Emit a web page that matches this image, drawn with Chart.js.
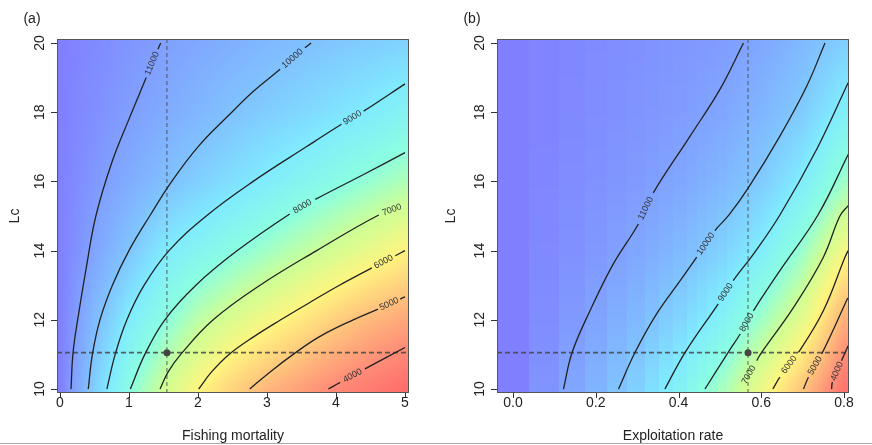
<!DOCTYPE html>
<html>
<head>
<meta charset="utf-8">
<script src="https://cdn.jsdelivr.net/npm/chart.js@4.4.1/dist/chart.umd.min.js"></script>
<style>
  body { margin: 0; background: #fff; }
  #wrap { position: relative; width: 872px; height: 445px; }
  canvas { position: absolute; top: 0; }
  #chartA { left: 0; }
  #chartB { left: 436px; }
</style>
</head>
<body>
<div id="wrap">
  <canvas id="chartA" width="436" height="445"></canvas>
  <canvas id="chartB" width="436" height="445"></canvas>
</div>
<script>
// tick labels
const lcTicks = [10, 12, 14, 16, 18, 20];
const fishingTicks = [0, 1, 2, 3, 4, 5];
const exploitTicks = [0, 0.2, 0.4, 0.6, 0.8];
const exploitTickLabels = ['0.0', '0.2', '0.4', '0.6', '0.8'];

// yield surface: rows = Lc, columns = fishing mortality
const gridLc = [10, 12, 14, 16, 18, 20];
const gridF = [0, 0.5, 1, 1.5, 2, 2.5, 3, 3.5, 4, 4.5, 5];
const yieldByF = [
  [11800, 9670, 8060, 6910, 6020, 5340, 4780, 4340, 3930, 3620, 3310],
  [11800, 10230, 8910, 8050, 7240, 6680, 6210, 5740, 5250, 4800, 4500],
  [11800, 10860, 9940, 9000, 8530, 8070, 7650, 7230, 6820, 6410, 6000],
  [11800, 11190, 10640, 10110, 9680, 9270, 8880, 8510, 8150, 7800, 7460],
  [11800, 11420, 11030, 10690, 10340, 10000, 9730, 9470, 9200, 8920, 8590],
  [11800, 11530, 11260, 11000, 10760, 10530, 10300, 10070, 9890, 9740, 9590]
];

// same surface: columns = exploitation rate
const gridE = [0, 0.1, 0.2, 0.3, 0.4, 0.5, 0.6, 0.7, 0.8];
const yieldByE = [
  [11800, 11140, 10410, 9600, 8660, 7600, 6370, 5030, 3450],
  [11800, 11360, 10880, 10260, 9550, 8700, 7650, 6520, 4650],
  [11800, 11500, 11190, 10800, 10290, 9660, 8860, 7720, 6200],
  [11800, 11580, 11350, 11130, 10810, 10350, 9800, 8890, 7680],
  [11800, 11630, 11460, 11280, 11110, 10840, 10370, 9760, 8770],
  [11800, 11660, 11510, 11370, 11230, 11080, 10780, 10270, 9680]
];
// visible column edges of the image cells in panel (b)
const exploitStripeEdges = [0.041, 0.113, 0.175, 0.229, 0.276, 0.318, 0.355, 0.389, 0.419, 0.446, 0.471, 0.494, 0.515, 0.534];

// contour lines, panel (a): [F, Lc]
const contA11000 = [[0.16,10],[0.19,11.06],[0.27,12.17],[0.39,13.61],[0.52,15.0],[0.75,16.54],[1.0,17.8],[1.25,19.0],[1.42,19.82],[1.46,20.0]];
const contA10000 = [[0.41,10],[0.47,11],[0.58,12],[0.76,13],[1.0,14],[1.3,15],[1.62,16],[2.0,17],[2.46,17.94],[2.8,18.6],[3.19,19.24],[3.55,19.86],[3.64,20.0]];
const contA9000 = [[0.68,10],[0.80,11],[0.97,12],[1.22,13],[1.58,14],[2.12,15],[2.80,16],[3.57,17],[4.08,17.65],[4.40,18.03],[5.0,18.82]];
const contA8000 = [[1.02,10],[1.23,11],[1.52,12],[1.97,13],[2.57,14],[3.33,15.06],[3.70,15.48],[4.40,16.2],[5.0,16.83]];
const contA7000 = [[1.45,10],[1.57,10.5],[1.75,11],[2.22,12],[2.9,13],[3.72,14],[4.62,15.03],[5.0,15.32]];
const contA6000 = [[2.01,10],[2.2,10.5],[2.45,11],[2.8,11.5],[3.2,12],[3.62,12.5],[4.05,13],[4.52,13.5],[4.86,13.85],[5.0,14.0]];
const contA5000 = [[2.75,10],[3.05,10.5],[3.38,11],[3.75,11.5],[4.25,12],[4.61,12.31],[4.93,12.6],[5.0,12.66]];
const contA4000 = [[3.89,10],[4.06,10.19],[4.42,10.58],[5.0,11.2]];

// contour lines, panel (b): [E, Lc]
const contB11000 = [[0.122,10],[0.143,11.06],[0.186,12.26],[0.242,13.61],[0.303,14.77],[0.339,15.67],[0.428,17.31],[0.500,18.66],[0.557,20.0]];
const contB10000 = [[0.255,10],[0.295,11.06],[0.347,12.17],[0.404,13.13],[0.444,13.81],[0.488,14.58],[0.522,15.03],[0.569,15.82],[0.645,17.31],[0.71,18.76],[0.754,20.0]];
const contB9000 = [[0.367,10],[0.416,11.06],[0.496,12.46],[0.532,13.13],[0.581,13.9],[0.645,15.03],[0.734,16.93],[0.81,18.85]];
const contB8000 = [[0.464,10],[0.520,11.06],[0.549,11.59],[0.581,12.26],[0.645,13.42],[0.738,15.05],[0.81,16.78]];
const contB7000 = [[0.551,10],[0.589,10.82],[0.601,11.06],[0.678,12.36],[0.750,13.81],[0.79,15.0],[0.81,15.3]];
const contB6000 = [[0.628,10],[0.645,10.34],[0.69,11.06],[0.75,12.26],[0.802,13.8],[0.81,14.0]];
const contB5000 = [[0.702,10],[0.714,10.34],[0.746,11.01],[0.809,12.63]];
const contB4000 = [[0.77,10],[0.772,10.2],[0.794,10.82],[0.81,11.25]];

// reference point (current fishery)
const refLc = 11.05;
const refF = 1.55;
const refE = 0.568;

// colour ramp (value -> rgb)
const colorLevels = [3200, 4000, 5000, 6000, 7000, 8000, 9000, 10000, 11000, 11800];
const colorRamp = [[255,106,106],[255,140,120],[255,195,125],[255,245,128],[205,255,150],[140,255,225],[128,235,255],[128,195,255],[128,160,255],[128,128,255]];

const FONT = "'Liberation Sans', Arial, Helvetica, sans-serif";
const lineColor = '#222';

function rampColor(v) {
    if (v <= colorLevels[0]) return colorRamp[0];
    for (let i = 1; i < colorLevels.length; i++) {
        if (v <= colorLevels[i]) {
            const t = (v - colorLevels[i - 1]) / (colorLevels[i] - colorLevels[i - 1]);
            const a = colorRamp[i - 1], b = colorRamp[i];
            return [a[0] + (b[0] - a[0]) * t, a[1] + (b[1] - a[1]) * t, a[2] + (b[2] - a[2]) * t];
        }
    }
    return colorRamp[colorRamp.length - 1];
}

function locate(arr, v) {
    v = Math.max(arr[0], Math.min(arr[arr.length - 1], v));
    let i = 0;
    while (i < arr.length - 2 && v > arr[i + 1]) i++;
    return [i, (v - arr[i]) / (arr[i + 1] - arr[i])];
}

function sampleGrid(xs, ys, grid, x, y) {
    const [i, tx] = locate(xs, x);
    const [j, ty] = locate(ys, y);
    const lo = grid[j][i] + (grid[j][i + 1] - grid[j][i]) * tx;
    const hi = grid[j + 1][i] + (grid[j + 1][i + 1] - grid[j + 1][i]) * tx;
    return lo + (hi - lo) * ty;
}

// snap an x value to the centre of its image column (panel b)
function snapToStripe(edges, xv) {
    if (!edges) return xv;
    if (xv < edges[0]) return 0;
    for (let k = 0; k < edges.length - 1; k++) {
        if (xv < edges[k + 1]) return (edges[k] + edges[k + 1]) / 2;
    }
    return xv;
}

// heat map painted cell by cell through the chart scales
const heatPlugin = {
    id: 'heat',
    beforeDatasetsDraw(chart, args, opts) {
        const { ctx, chartArea: a, scales: { x, y } } = chart;
        const step = 2;
        ctx.save();
        for (let px = a.left; px < a.right; px += step) {
            const xv = snapToStripe(opts.stripes, x.getValueForPixel(px + step / 2));
            for (let py = a.top; py < a.bottom; py += step) {
                const yv = y.getValueForPixel(py + step / 2);
                const c = rampColor(sampleGrid(opts.xs, gridLc, opts.grid, xv, yv));
                ctx.fillStyle = `rgb(${c[0] | 0},${c[1] | 0},${c[2] | 0})`;
                ctx.fillRect(px, py, step, step);
            }
        }
        ctx.restore();
    }
};

// contour labels sit in the gap left in each line
const labelPlugin = {
    id: 'contourLabels',
    afterDatasetsDraw(chart) {
        const ctx = chart.ctx;
        ctx.save();
        ctx.font = '9px ' + FONT;
        ctx.fillStyle = '#333';
        ctx.textAlign = 'center';
        ctx.textBaseline = 'middle';
        chart.data.datasets.forEach((ds, i) => {
            if (ds.contourLabel === undefined) return;
            const pts = chart.getDatasetMeta(i).data;
            const p0 = pts[ds.gapIndex], p1 = pts[ds.gapIndex + 1];
            let ang = Math.atan2(p1.y - p0.y, p1.x - p0.x);
            if (ang > Math.PI / 2) ang -= Math.PI;
            if (ang < -Math.PI / 2) ang += Math.PI;
            ctx.save();
            ctx.translate((p0.x + p1.x) / 2, (p0.y + p1.y) / 2);
            ctx.rotate(ang);
            ctx.fillText(String(ds.contourLabel), 0, 0);
            ctx.restore();
        });
        ctx.restore();
    }
};

// R style box, ticks and text
const axesPlugin = {
    id: 'rAxes',
    afterDraw(chart, args, o) {
        const { ctx, chartArea: a, scales: { x, y } } = chart;
        ctx.save();
        ctx.strokeStyle = '#555';
        ctx.lineWidth = 1;
        ctx.strokeRect(a.left + 0.5, a.top + 0.5, a.right - a.left - 1, a.bottom - a.top - 1);
        ctx.strokeStyle = '#333';
        ctx.beginPath();
        o.xTicks.forEach(v => {
            const px = Math.round(x.getPixelForValue(v)) + 0.5;
            ctx.moveTo(px, a.bottom);
            ctx.lineTo(px, a.bottom + 5);
        });
        lcTicks.forEach(v => {
            const py = Math.round(y.getPixelForValue(v)) + 0.5;
            ctx.moveTo(a.left, py);
            ctx.lineTo(a.left - 6, py);
        });
        ctx.stroke();

        ctx.fillStyle = '#222';
        ctx.font = '14px ' + FONT;
        ctx.textAlign = 'center';
        ctx.textBaseline = 'middle';
        o.xTicks.forEach((v, i) => {
            ctx.fillText(o.xLabels[i], x.getPixelForValue(v), a.bottom + 10);
        });
        lcTicks.forEach(v => {
            ctx.save();
            ctx.translate(a.left - 17, y.getPixelForValue(v));
            ctx.rotate(-Math.PI / 2);
            ctx.fillText(String(v), 0, 0);
            ctx.restore();
        });
        ctx.fillText(o.xTitle, (a.left + a.right) / 2, 436);
        ctx.save();
        ctx.translate(o.yTitleX, (a.top + a.bottom) / 2);
        ctx.rotate(-Math.PI / 2);
        ctx.fillText('Lc', 0, 0);
        ctx.restore();
        ctx.fillText(o.panel, o.panelX, 19);

        ctx.strokeStyle = '#aaa';
        ctx.beginPath();
        ctx.moveTo(0, 443.5);
        ctx.lineTo(chart.width, 443.5);
        ctx.stroke();
        ctx.restore();
    }
};

function contourDataset(pts, level, gap) {
    return {
        data: pts.map(p => ({ x: p[0], y: p[1] })),
        showLine: true,
        pointRadius: 0,
        borderColor: lineColor,
        borderWidth: 1.3,
        tension: 0.4,
        segment: {
            borderColor: c => c.p0DataIndex === gap ? 'rgba(0,0,0,0)' : lineColor
        },
        contourLabel: level,
        gapIndex: gap
    };
}

function refDatasets(xMin, xMax, refX) {
    return [
        {
            data: [{ x: xMin, y: refLc }, { x: xMax, y: refLc }],
            showLine: true, pointRadius: 0,
            borderColor: 'rgba(70,70,70,0.85)', borderWidth: 1.6, borderDash: [5, 3]
        },
        {
            data: [{ x: refX, y: 9.884 }, { x: refX, y: 20.116 }],
            showLine: true, pointRadius: 0,
            borderColor: 'rgba(70,70,70,0.85)', borderWidth: 1, borderDash: [4, 3]
        },
        {
            data: [{ x: refX, y: refLc }],
            pointRadius: 3.5, pointBackgroundColor: '#444', pointBorderWidth: 0
        }
    ];
}

function makePanel(id, cfg) {
    return new Chart(document.getElementById(id), {
        type: 'scatter',
        data: { datasets: cfg.contours.concat(refDatasets(cfg.xMin, cfg.xMax, cfg.refX)) },
        options: {
            responsive: false,
            animation: false,
            events: [],
            layout: { padding: cfg.padding },
            scales: {
                x: { type: 'linear', min: cfg.xMin, max: cfg.xMax, display: false },
                y: { type: 'linear', min: 9.884, max: 20.116, display: false }
            },
            plugins: {
                legend: { display: false },
                tooltip: { enabled: false },
                heat: { xs: cfg.xs, grid: cfg.grid, stripes: cfg.stripes },
                rAxes: cfg.axes
            }
        },
        plugins: [heatPlugin, labelPlugin, axesPlugin]
    });
}

makePanel('chartA', {
    xMin: -0.043, xMax: 5.058, refX: refF,
    xs: gridF, grid: yieldByF, stripes: null,
    padding: { left: 57, right: 27, top: 39, bottom: 52 },
    contours: [
        contourDataset(contA11000, 11000, 7),
        contourDataset(contA10000, 10000, 10),
        contourDataset(contA9000, 9000, 8),
        contourDataset(contA8000, 8000, 5),
        contourDataset(contA7000, 7000, 6),
        contourDataset(contA6000, 6000, 7),
        contourDataset(contA5000, 5000, 5),
        contourDataset(contA4000, 4000, 1)
    ],
    axes: {
        xTicks: fishingTicks, xLabels: fishingTicks.map(String),
        xTitle: 'Fishing mortality', yTitleX: 15, panel: '(a)', panelX: 32
    }
});

makePanel('chartB', {
    xMin: -0.0387, xMax: 0.812, refX: refE,
    xs: gridE, grid: yieldByE, stripes: exploitStripeEdges,
    padding: { left: 61, right: 23, top: 39, bottom: 52 },
    contours: [
        contourDataset(contB11000, 11000, 4),
        contourDataset(contB10000, 10000, 4),
        contourDataset(contB9000, 9000, 2),
        contourDataset(contB8000, 8000, 2),
        contourDataset(contB7000, 7000, 0),
        contourDataset(contB6000, 6000, 1),
        contourDataset(contB5000, 5000, 1),
        contourDataset(contB4000, 4000, 1)
    ],
    axes: {
        xTicks: exploitTicks, xLabels: exploitTickLabels,
        xTitle: 'Exploitation rate', yTitleX: 15, panel: '(b)', panelX: 36
    }
});
</script>
</body>
</html>
